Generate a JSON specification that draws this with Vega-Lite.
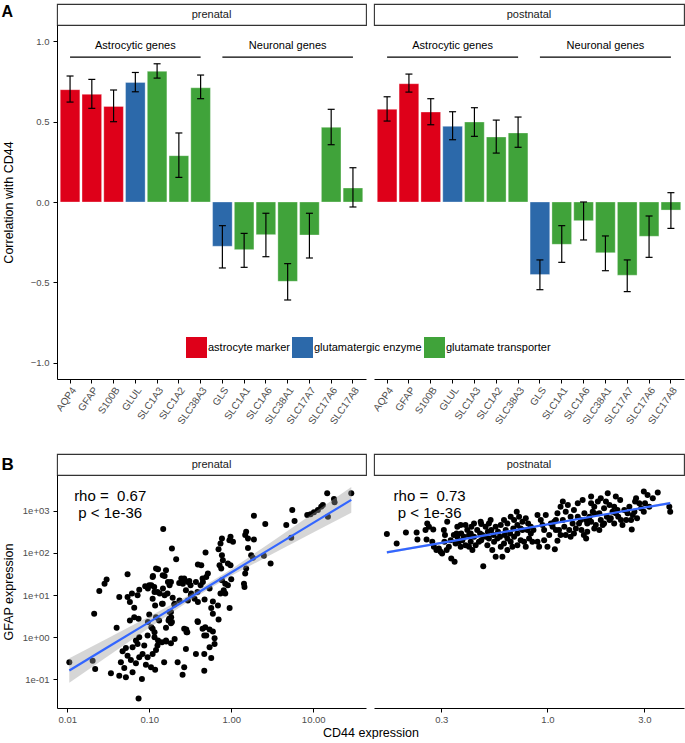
{
  "$schema": "https://vega.github.io/schema/vega-lite/v6.json",
  "background": "white",
  "padding": {"left": 0, "top": 2, "right": 0, "bottom": 0},
  "config": {
    "font": "Liberation Sans",
    "view": {"stroke": null},
    "axis": {"grid": false, "domainColor": "#000000", "domainWidth": 1, "tickColor": "#000000", "tickWidth": 1, "tickSize": 4, "labelColor": "#4d4d4d", "labelFontSize": 9.5, "labelPadding": 4, "titleColor": "#000000", "titleFontSize": 12.5, "titleFontWeight": "normal"}
  },
  "datasets": {
    "bars": [
      {"period": "prenatal", "gene": "AQP4", "category": "astrocyte marker", "r": 0.698, "lo": 0.621, "hi": 0.783},
      {"period": "prenatal", "gene": "GFAP", "category": "astrocyte marker", "r": 0.669, "lo": 0.582, "hi": 0.762},
      {"period": "prenatal", "gene": "S100B", "category": "astrocyte marker", "r": 0.594, "lo": 0.499, "hi": 0.696},
      {"period": "prenatal", "gene": "GLUL", "category": "glutamatergic enzyme", "r": 0.743, "lo": 0.685, "hi": 0.805},
      {"period": "prenatal", "gene": "SLC1A3", "category": "glutamate transporter", "r": 0.812, "lo": 0.770, "hi": 0.859},
      {"period": "prenatal", "gene": "SLC1A2", "category": "glutamate transporter", "r": 0.288, "lo": 0.153, "hi": 0.429},
      {"period": "prenatal", "gene": "SLC38A3", "category": "glutamate transporter", "r": 0.710, "lo": 0.642, "hi": 0.789},
      {"period": "prenatal", "gene": "GLS", "category": "glutamatergic enzyme", "r": -0.275, "lo": -0.410, "hi": -0.147},
      {"period": "prenatal", "gene": "SLC1A1", "category": "glutamate transporter", "r": -0.296, "lo": -0.406, "hi": -0.195},
      {"period": "prenatal", "gene": "SLC1A6", "category": "glutamate transporter", "r": -0.203, "lo": -0.340, "hi": -0.070},
      {"period": "prenatal", "gene": "SLC38A1", "category": "glutamate transporter", "r": -0.493, "lo": -0.609, "hi": -0.383},
      {"period": "prenatal", "gene": "SLC17A7", "category": "glutamate transporter", "r": -0.205, "lo": -0.348, "hi": -0.070},
      {"period": "prenatal", "gene": "SLC17A6", "category": "glutamate transporter", "r": 0.464, "lo": 0.356, "hi": 0.576},
      {"period": "prenatal", "gene": "SLC17A8", "category": "glutamate transporter", "r": 0.087, "lo": -0.031, "hi": 0.213},
      {"period": "postnatal", "gene": "AQP4", "category": "astrocyte marker", "r": 0.576, "lo": 0.503, "hi": 0.654},
      {"period": "postnatal", "gene": "GFAP", "category": "astrocyte marker", "r": 0.735, "lo": 0.683, "hi": 0.795},
      {"period": "postnatal", "gene": "S100B", "category": "astrocyte marker", "r": 0.559, "lo": 0.480, "hi": 0.642},
      {"period": "postnatal", "gene": "GLUL", "category": "glutamatergic enzyme", "r": 0.470, "lo": 0.387, "hi": 0.561},
      {"period": "postnatal", "gene": "SLC1A3", "category": "glutamate transporter", "r": 0.497, "lo": 0.408, "hi": 0.586},
      {"period": "postnatal", "gene": "SLC1A2", "category": "glutamate transporter", "r": 0.404, "lo": 0.304, "hi": 0.509},
      {"period": "postnatal", "gene": "SLC38A3", "category": "glutamate transporter", "r": 0.429, "lo": 0.340, "hi": 0.528},
      {"period": "postnatal", "gene": "GLS", "category": "glutamatergic enzyme", "r": -0.451, "lo": -0.545, "hi": -0.360},
      {"period": "postnatal", "gene": "SLC1A1", "category": "glutamate transporter", "r": -0.263, "lo": -0.375, "hi": -0.147},
      {"period": "postnatal", "gene": "SLC1A6", "category": "glutamate transporter", "r": -0.116, "lo": -0.236, "hi": 0.0},
      {"period": "postnatal", "gene": "SLC38A1", "category": "glutamate transporter", "r": -0.315, "lo": -0.427, "hi": -0.211},
      {"period": "postnatal", "gene": "SLC17A7", "category": "glutamate transporter", "r": -0.455, "lo": -0.557, "hi": -0.360},
      {"period": "postnatal", "gene": "SLC17A6", "category": "glutamate transporter", "r": -0.213, "lo": -0.344, "hi": -0.087},
      {"period": "postnatal", "gene": "SLC17A8", "category": "glutamate transporter", "r": -0.050, "lo": -0.164, "hi": 0.058}
    ],
    "annot": [
      {"label": "Astrocytic genes", "g1": "AQP4", "g2": "SLC38A3", "gm": "GLUL"},
      {"label": "Neuronal genes", "g1": "GLS", "g2": "SLC17A8", "gm": "SLC38A1"}
    ],
    "pre": [
      {"cd44": 29.1, "gfap": 2590}, {"cd44": 14.8, "gfap": 2590}, {"cd44": 17.9, "gfap": 1900}, {"cd44": 18.2, "gfap": 1580},
      {"cd44": 12.5, "gfap": 1245}, {"cd44": 13.1, "gfap": 1365}, {"cd44": 11.4, "gfap": 1037}, {"cd44": 10.2, "gfap": 912},
      {"cd44": 9.27, "gfap": 818}, {"cd44": 8.45, "gfap": 788}, {"cd44": 15.1, "gfap": 720}, {"cd44": 5.55, "gfap": 1037},
      {"cd44": 5.92, "gfap": 568}, {"cd44": 4.69, "gfap": 456}, {"cd44": 5.39, "gfap": 228}, {"cd44": 1.89, "gfap": 760},
      {"cd44": 2.60, "gfap": 481}, {"cd44": 1.52, "gfap": 316}, {"cd44": 1.48, "gfap": 263}, {"cd44": 1.60, "gfap": 219},
      {"cd44": 1.89, "gfap": 208}, {"cd44": 0.98, "gfap": 240}, {"cd44": 0.95, "gfap": 200}, {"cd44": 1.05, "gfap": 183},
      {"cd44": 0.77, "gfap": 219}, {"cd44": 0.74, "gfap": 167}, {"cd44": 0.70, "gfap": 122}, {"cd44": 1.60, "gfap": 131},
      {"cd44": 1.75, "gfap": 88}, {"cd44": 1.84, "gfap": 76}, {"cd44": 2.50, "gfap": 85}, {"cd44": 3.02, "gfap": 55.7},
      {"cd44": 1.52, "gfap": 42.4}, {"cd44": 1.48, "gfap": 32.2}, {"cd44": 1.43, "gfap": 18.6}, {"cd44": 1.45, "gfap": 15.5},
      {"cd44": 0.486, "gfap": 102}, {"cd44": 0.77, "gfap": 88}, {"cd44": 0.79, "gfap": 66.9}, {"cd44": 0.72, "gfap": 50.8},
      {"cd44": 0.755, "gfap": 42.4}, {"cd44": 0.91, "gfap": 55.7}, {"cd44": 0.98, "gfap": 50.8}, {"cd44": 0.392, "gfap": 52.7},
      {"cd44": 0.431, "gfap": 50.8}, {"cd44": 0.519, "gfap": 32.2}, {"cd44": 0.496, "gfap": 26.8}, {"cd44": 0.451, "gfap": 20.4},
      {"cd44": 0.423, "gfap": 17.0}, {"cd44": 0.544, "gfap": 14.2}, {"cd44": 0.77, "gfap": 22.4}, {"cd44": 0.845, "gfap": 18.6},
      {"cd44": 0.91, "gfap": 17.0}, {"cd44": 0.81, "gfap": 12.9}, {"cd44": 0.74, "gfap": 10.8}, {"cd44": 0.845, "gfap": 10.8},
      {"cd44": 1.0, "gfap": 23.6}, {"cd44": 0.189, "gfap": 127}, {"cd44": 0.213, "gfap": 70.7}, {"cd44": 0.148, "gfap": 366},
      {"cd44": 0.128, "gfap": 40.8}, {"cd44": 0.111, "gfap": 28.3}, {"cd44": 0.154, "gfap": 28.3}, {"cd44": 0.246, "gfap": 24.5},
      {"cd44": 0.270, "gfap": 22.4}, {"cd44": 0.296, "gfap": 20.4}, {"cd44": 0.319, "gfap": 17.0}, {"cd44": 0.257, "gfap": 18.6},
      {"cd44": 0.169, "gfap": 20.4}, {"cd44": 0.177, "gfap": 17.0}, {"cd44": 0.147, "gfap": 14.2}, {"cd44": 0.106, "gfap": 17.0},
      {"cd44": 0.0963, "gfap": 14.2}, {"cd44": 0.116, "gfap": 11.8}, {"cd44": 0.134, "gfap": 10.8}, {"cd44": 0.154, "gfap": 9.82},
      {"cd44": 0.325, "gfap": 10.8}, {"cd44": 0.357, "gfap": 8.18}, {"cd44": 0.296, "gfap": 7.46}, {"cd44": 0.392, "gfap": 6.81},
      {"cd44": 0.234, "gfap": 7.46}, {"cd44": 0.204, "gfap": 6.22}, {"cd44": 0.143, "gfap": 6.22}, {"cd44": 0.177, "gfap": 3.94},
      {"cd44": 0.185, "gfap": 2.99}, {"cd44": 0.172, "gfap": 2.49}, {"cd44": 0.189, "gfap": 2.28}, {"cd44": 0.0963, "gfap": 2.28},
      {"cd44": 0.106, "gfap": 1.73}, {"cd44": 0.116, "gfap": 1.32}, {"cd44": 0.473, "gfap": 7.88}, {"cd44": 0.597, "gfap": 7.07},
      {"cd44": 0.688, "gfap": 5.68}, {"cd44": 0.570, "gfap": 4.90}, {"cd44": 0.597, "gfap": 3.59}, {"cd44": 0.701, "gfap": 2.63},
      {"cd44": 0.955, "gfap": 4.90}, {"cd44": 0.392, "gfap": 2.28}, {"cd44": 0.482, "gfap": 1.73}, {"cd44": 0.544, "gfap": 1.52},
      {"cd44": 0.597, "gfap": 1.36}, {"cd44": 0.496, "gfap": 1.10}, {"cd44": 0.626, "gfap": 0.947}, {"cd44": 0.283, "gfap": 1.52},
      {"cd44": 0.291, "gfap": 1.32}, {"cd44": 0.204, "gfap": 0.912}, {"cd44": 0.161, "gfap": 0.789}, {"cd44": 0.128, "gfap": 0.833},
      {"cd44": 0.116, "gfap": 1.0}, {"cd44": 0.0106, "gfap": 0.254}, {"cd44": 0.0204, "gfap": 0.278}, {"cd44": 0.0219, "gfap": 0.176},
      {"cd44": 0.0213, "gfap": 3.59}, {"cd44": 0.0400, "gfap": 1.67}, {"cd44": 0.0246, "gfap": 12.5}, {"cd44": 0.0302, "gfap": 23.2},
      {"cd44": 0.0285, "gfap": 18.6}, {"cd44": 0.0544, "gfap": 31.0}, {"cd44": 0.0431, "gfap": 8.96}, {"cd44": 0.0341, "gfap": 0.139},
      {"cd44": 0.0451, "gfap": 0.254}, {"cd44": 0.0496, "gfap": 0.186}, {"cd44": 0.0431, "gfap": 0.122}, {"cd44": 0.0519, "gfap": 0.112},
      {"cd44": 0.0626, "gfap": 0.147}, {"cd44": 0.0814, "gfap": 0.102}, {"cd44": 0.0741, "gfap": 0.0353}, {"cd44": 0.0473, "gfap": 0.464},
      {"cd44": 0.0544, "gfap": 0.366}, {"cd44": 0.0597, "gfap": 0.289}, {"cd44": 0.0688, "gfap": 0.240}, {"cd44": 0.0755, "gfap": 0.334},
      {"cd44": 0.0519, "gfap": 0.557}, {"cd44": 0.0626, "gfap": 0.578}, {"cd44": 0.0721, "gfap": 0.694}, {"cd44": 0.0829, "gfap": 0.401},
      {"cd44": 0.0955, "gfap": 0.334}, {"cd44": 0.110, "gfap": 0.401}, {"cd44": 0.121, "gfap": 0.499}, {"cd44": 0.105, "gfap": 0.193},
      {"cd44": 0.118, "gfap": 0.170}, {"cd44": 0.091, "gfap": 0.223}, {"cd44": 0.152, "gfap": 0.254}, {"cd44": 0.126, "gfap": 0.633},
      {"cd44": 0.143, "gfap": 0.760}, {"cd44": 0.160, "gfap": 0.833}, {"cd44": 0.184, "gfap": 0.720}, {"cd44": 0.0955, "gfap": 1.10},
      {"cd44": 0.0869, "gfap": 0.633}, {"cd44": 0.0755, "gfap": 1.0}, {"cd44": 0.0688, "gfap": 0.833}, {"cd44": 0.110, "gfap": 1.58},
      {"cd44": 0.132, "gfap": 2.49}, {"cd44": 0.175, "gfap": 2.73}, {"cd44": 0.184, "gfap": 2.15}, {"cd44": 0.0656, "gfap": 2.99},
      {"cd44": 0.0581, "gfap": 2.49}, {"cd44": 0.0741, "gfap": 2.73}, {"cd44": 0.1, "gfap": 3.47}, {"cd44": 0.121, "gfap": 2.99},
      {"cd44": 0.160, "gfap": 1.67}, {"cd44": 0.0544, "gfap": 8.96}, {"cd44": 0.0581, "gfap": 6.81}, {"cd44": 0.0615, "gfap": 10.8},
      {"cd44": 0.0656, "gfap": 4.99}, {"cd44": 0.0721, "gfap": 9.82}, {"cd44": 0.0755, "gfap": 13.4}, {"cd44": 0.0893, "gfap": 16.1},
      {"cd44": 0.1, "gfap": 17.0}, {"cd44": 0.115, "gfap": 15.5}, {"cd44": 0.126, "gfap": 11.8}, {"cd44": 0.110, "gfap": 8.18},
      {"cd44": 0.118, "gfap": 5.68}, {"cd44": 0.146, "gfap": 6.22}, {"cd44": 0.167, "gfap": 10.8}, {"cd44": 0.184, "gfap": 20.4},
      {"cd44": 0.193, "gfap": 8.64}, {"cd44": 0.202, "gfap": 6.0}, {"cd44": 0.184, "gfap": 3.94}, {"cd44": 0.121, "gfap": 42.4},
      {"cd44": 0.146, "gfap": 29.4}, {"cd44": 0.160, "gfap": 38.7}, {"cd44": 0.110, "gfap": 26.8}, {"cd44": 0.232, "gfap": 19.3},
      {"cd44": 0.267, "gfap": 24.5}, {"cd44": 0.308, "gfap": 21.5}, {"cd44": 0.371, "gfap": 20.4}, {"cd44": 0.447, "gfap": 24.5},
      {"cd44": 0.280, "gfap": 12.9}, {"cd44": 0.322, "gfap": 9.82}, {"cd44": 0.388, "gfap": 11.8}, {"cd44": 0.267, "gfap": 1.58},
      {"cd44": 0.285, "gfap": 1.32}, {"cd44": 0.388, "gfap": 2.40}, {"cd44": 0.447, "gfap": 1.58}, {"cd44": 0.469, "gfap": 1.10},
      {"cd44": 0.222, "gfap": 0.254}, {"cd44": 0.267, "gfap": 0.193}, {"cd44": 0.255, "gfap": 0.129}, {"cd44": 0.371, "gfap": 0.401},
      {"cd44": 0.469, "gfap": 0.401}, {"cd44": 0.469, "gfap": 0.161}, {"cd44": 0.280, "gfap": 0.527}, {"cd44": 0.570, "gfap": 0.322},
      {"cd44": 0.544, "gfap": 0.578}, {"cd44": 0.626, "gfap": 0.694}
    ],
    "post": [
      {"cd44": 0.162, "gfap": 278}, {"cd44": 0.181, "gfap": 167}, {"cd44": 0.201, "gfap": 305}, {"cd44": 0.227, "gfap": 305},
      {"cd44": 0.229, "gfap": 208}, {"cd44": 0.254, "gfap": 208}, {"cd44": 0.251, "gfap": 347}, {"cd44": 0.261, "gfap": 416},
      {"cd44": 0.274, "gfap": 359}, {"cd44": 0.309, "gfap": 347}, {"cd44": 0.313, "gfap": 263}, {"cd44": 0.321, "gfap": 547},
      {"cd44": 0.271, "gfap": 183}, {"cd44": 0.276, "gfap": 139}, {"cd44": 0.284, "gfap": 116}, {"cd44": 0.292, "gfap": 127},
      {"cd44": 0.298, "gfap": 106}, {"cd44": 0.303, "gfap": 96.4}, {"cd44": 0.336, "gfap": 73.3}, {"cd44": 0.349, "gfap": 61.1},
      {"cd44": 0.311, "gfap": 183}, {"cd44": 0.334, "gfap": 200}, {"cd44": 0.346, "gfap": 263}, {"cd44": 0.360, "gfap": 416},
      {"cd44": 0.374, "gfap": 456}, {"cd44": 0.376, "gfap": 289}, {"cd44": 0.388, "gfap": 240}, {"cd44": 0.403, "gfap": 347},
      {"cd44": 0.422, "gfap": 416}, {"cd44": 0.435, "gfap": 499}, {"cd44": 0.451, "gfap": 347}, {"cd44": 0.472, "gfap": 481},
      {"cd44": 0.496, "gfap": 416}, {"cd44": 0.515, "gfap": 499}, {"cd44": 0.529, "gfap": 347}, {"cd44": 0.556, "gfap": 416},
      {"cd44": 0.571, "gfap": 316}, {"cd44": 0.589, "gfap": 456}, {"cd44": 0.611, "gfap": 600}, {"cd44": 0.635, "gfap": 499},
      {"cd44": 0.659, "gfap": 720}, {"cd44": 0.685, "gfap": 600}, {"cd44": 0.706, "gfap": 946}, {"cd44": 0.725, "gfap": 720},
      {"cd44": 0.753, "gfap": 547}, {"cd44": 0.782, "gfap": 657}, {"cd44": 0.803, "gfap": 499}, {"cd44": 0.828, "gfap": 416},
      {"cd44": 0.853, "gfap": 347}, {"cd44": 0.797, "gfap": 347}, {"cd44": 0.753, "gfap": 347}, {"cd44": 0.711, "gfap": 289},
      {"cd44": 0.685, "gfap": 240}, {"cd44": 0.659, "gfap": 183}, {"cd44": 0.635, "gfap": 219}, {"cd44": 0.611, "gfap": 167},
      {"cd44": 0.589, "gfap": 139}, {"cd44": 0.567, "gfap": 219}, {"cd44": 0.546, "gfap": 183}, {"cd44": 0.515, "gfap": 219},
      {"cd44": 0.496, "gfap": 240}, {"cd44": 0.478, "gfap": 263}, {"cd44": 0.460, "gfap": 183}, {"cd44": 0.443, "gfap": 152},
      {"cd44": 0.427, "gfap": 116}, {"cd44": 0.411, "gfap": 139}, {"cd44": 0.395, "gfap": 152}, {"cd44": 0.435, "gfap": 240},
      {"cd44": 0.381, "gfap": 200}, {"cd44": 0.366, "gfap": 183}, {"cd44": 0.353, "gfap": 167}, {"cd44": 0.506, "gfap": 152},
      {"cd44": 0.535, "gfap": 116}, {"cd44": 0.556, "gfap": 80.3}, {"cd44": 0.600, "gfap": 80.3}, {"cd44": 0.483, "gfap": 48.2},
      {"cd44": 0.635, "gfap": 116}, {"cd44": 0.672, "gfap": 139}, {"cd44": 0.711, "gfap": 152}, {"cd44": 0.738, "gfap": 200},
      {"cd44": 0.767, "gfap": 183}, {"cd44": 0.812, "gfap": 219}, {"cd44": 0.843, "gfap": 183}, {"cd44": 0.782, "gfap": 139},
      {"cd44": 0.711, "gfap": 456}, {"cd44": 0.623, "gfap": 347}, {"cd44": 0.525, "gfap": 600}, {"cd44": 0.469, "gfap": 547},
      {"cd44": 0.419, "gfap": 289}, {"cd44": 0.395, "gfap": 456}, {"cd44": 0.357, "gfap": 289}, {"cd44": 0.256, "gfap": 499},
      {"cd44": 0.910, "gfap": 139}, {"cd44": 1.087, "gfap": 122}, {"cd44": 1.12, "gfap": 193}, {"cd44": 0.963, "gfap": 347},
      {"cd44": 1.02, "gfap": 263}, {"cd44": 1.06, "gfap": 416}, {"cd44": 1.10, "gfap": 600}, {"cd44": 1.12, "gfap": 864},
      {"cd44": 1.16, "gfap": 1245}, {"cd44": 1.19, "gfap": 1638}, {"cd44": 1.23, "gfap": 946}, {"cd44": 1.26, "gfap": 1365},
      {"cd44": 1.30, "gfap": 720}, {"cd44": 1.35, "gfap": 1037}, {"cd44": 1.41, "gfap": 1496}, {"cd44": 1.43, "gfap": 499},
      {"cd44": 1.47, "gfap": 347}, {"cd44": 1.51, "gfap": 263}, {"cd44": 1.55, "gfap": 219}, {"cd44": 1.57, "gfap": 316},
      {"cd44": 1.49, "gfap": 1795}, {"cd44": 1.52, "gfap": 864}, {"cd44": 1.61, "gfap": 720}, {"cd44": 1.64, "gfap": 1496},
      {"cd44": 1.70, "gfap": 1245}, {"cd44": 1.67, "gfap": 946}, {"cd44": 1.77, "gfap": 1638}, {"cd44": 1.80, "gfap": 864},
      {"cd44": 1.83, "gfap": 600}, {"cd44": 1.87, "gfap": 456}, {"cd44": 1.90, "gfap": 499}, {"cd44": 1.96, "gfap": 720},
      {"cd44": 1.98, "gfap": 2590}, {"cd44": 2.02, "gfap": 1365}, {"cd44": 2.05, "gfap": 657}, {"cd44": 2.13, "gfap": 1245},
      {"cd44": 2.17, "gfap": 864}, {"cd44": 2.23, "gfap": 720}, {"cd44": 2.28, "gfap": 1795}, {"cd44": 2.34, "gfap": 456},
      {"cd44": 2.39, "gfap": 1037}, {"cd44": 2.53, "gfap": 1245}, {"cd44": 2.60, "gfap": 359}, {"cd44": 2.63, "gfap": 788},
      {"cd44": 2.70, "gfap": 1638}, {"cd44": 2.73, "gfap": 1966}, {"cd44": 2.76, "gfap": 657}, {"cd44": 2.83, "gfap": 1496},
      {"cd44": 2.98, "gfap": 2833}, {"cd44": 3.02, "gfap": 1496}, {"cd44": 3.11, "gfap": 2360}, {"cd44": 3.17, "gfap": 1245},
      {"cd44": 3.30, "gfap": 1966}, {"cd44": 2.98, "gfap": 946}, {"cd44": 3.49, "gfap": 2683}, {"cd44": 3.98, "gfap": 1245},
      {"cd44": 4.02, "gfap": 946}, {"cd44": 0.927, "gfap": 600}, {"cd44": 0.893, "gfap": 788}, {"cd44": 0.981, "gfap": 788},
      {"cd44": 1.04, "gfap": 499}, {"cd44": 1.21, "gfap": 416}, {"cd44": 1.28, "gfap": 347}, {"cd44": 1.35, "gfap": 289},
      {"cd44": 1.16, "gfap": 263}, {"cd44": 1.10, "gfap": 347}, {"cd44": 0.963, "gfap": 200}, {"cd44": 0.893, "gfap": 183},
      {"cd44": 1.0, "gfap": 139}, {"cd44": 1.19, "gfap": 600}, {"cd44": 1.33, "gfap": 499}, {"cd44": 1.41, "gfap": 720},
      {"cd44": 1.73, "gfap": 456}, {"cd44": 1.57, "gfap": 499}, {"cd44": 1.90, "gfap": 1137}, {"cd44": 2.09, "gfap": 946},
      {"cd44": 2.48, "gfap": 864}, {"cd44": 2.30, "gfap": 600}, {"cd44": 2.89, "gfap": 1137}, {"cd44": 2.58, "gfap": 600},
      {"cd44": 1.64, "gfap": 2154}, {"cd44": 2.17, "gfap": 2154}, {"cd44": 1.83, "gfap": 1966}, {"cd44": 1.94, "gfap": 1638},
      {"cd44": 0.411, "gfap": 263}, {"cd44": 0.466, "gfap": 289}, {"cd44": 0.509, "gfap": 316}, {"cd44": 0.542, "gfap": 263},
      {"cd44": 0.584, "gfap": 240}, {"cd44": 0.616, "gfap": 263}, {"cd44": 0.655, "gfap": 289}, {"cd44": 0.679, "gfap": 380},
      {"cd44": 0.738, "gfap": 380}, {"cd44": 0.828, "gfap": 289}, {"cd44": 0.472, "gfap": 200}, {"cd44": 0.419, "gfap": 183},
      {"cd44": 0.374, "gfap": 139}, {"cd44": 0.360, "gfap": 240}, {"cd44": 0.327, "gfap": 139}, {"cd44": 0.319, "gfap": 116},
      {"cd44": 0.945, "gfap": 456}, {"cd44": 1.08, "gfap": 547}, {"cd44": 1.14, "gfap": 347}, {"cd44": 1.23, "gfap": 263},
      {"cd44": 1.30, "gfap": 240}, {"cd44": 1.38, "gfap": 380}, {"cd44": 1.46, "gfap": 600}, {"cd44": 1.55, "gfap": 600},
      {"cd44": 1.64, "gfap": 547}, {"cd44": 1.70, "gfap": 380}, {"cd44": 1.80, "gfap": 347}, {"cd44": 2.02, "gfap": 600},
      {"cd44": 2.13, "gfap": 499}, {"cd44": 2.21, "gfap": 1037}, {"cd44": 2.44, "gfap": 600}, {"cd44": 2.68, "gfap": 946},
      {"cd44": 1.70, "gfap": 864}
    ],
    "fitpre": [
      {"cd44": 0.0106, "fit": 0.163, "lo": 0.0834, "hi": 0.318},
      {"cd44": 0.03, "fit": 0.555, "lo": 0.337, "hi": 0.912},
      {"cd44": 0.1, "fit": 2.28, "lo": 1.68, "hi": 3.10},
      {"cd44": 0.3, "fit": 8.30, "lo": 7.05, "hi": 9.77},
      {"cd44": 1, "fit": 34.2, "lo": 28.5, "hi": 41.0},
      {"cd44": 3, "fit": 124, "lo": 89.1, "hi": 174},
      {"cd44": 10, "fit": 512, "lo": 303, "hi": 869},
      {"cd44": 29.1, "fit": 1799, "lo": 889, "hi": 3639}
    ],
    "fitpost": [
      {"cd44": 0.162, "fit": 103, "lo": 96, "hi": 110},
      {"cd44": 0.5, "fit": 264, "lo": 255, "hi": 274},
      {"cd44": 1, "fit": 472, "lo": 459, "hi": 485},
      {"cd44": 2, "fit": 843, "lo": 809, "hi": 879},
      {"cd44": 4.02, "fit": 1514, "lo": 1413, "hi": 1622}
    ]
  },
  "spacing": 27,
  "vconcat": [
    {
      "columns": 2,
      "bounds": "flush",
      "spacing": {"row": 0, "column": 8},
      "concat": [
        {
          "width": 309, "height": 21,
          "data": {"values": [{"label": "prenatal"}]},
          "view": {"stroke": "#333333", "strokeWidth": 1.1},
          "mark": {"type": "text", "fontSize": 11, "color": "#1a1a1a"},
          "encoding": {
            "text": {"field": "label"},
            "y": {"datum": 0, "type": "quantitative", "scale": {"domain": [-1, 1]},
                  "axis": {"title": "A", "titleAngle": 0, "titleX": -56, "titleY": 12, "titleAlign": "left", "titleBaseline": "alphabetic", "titleFontSize": 16, "titleFontWeight": "bold", "ticks": false, "labels": false, "domain": false}}
          }
        },
        {
          "width": 310, "height": 21,
          "data": {"values": [{"label": "postnatal"}]},
          "view": {"stroke": "#333333", "strokeWidth": 1.1},
          "mark": {"type": "text", "fontSize": 11, "color": "#1a1a1a"},
          "encoding": {"text": {"field": "label"}}
        },
        {
          "width": 309, "height": 354,
          "data": {"name": "bars"},
          "transform": [{"filter": "datum.period === 'prenatal'"}],
          "encoding": {
            "x": {"field": "gene", "type": "nominal",
                  "scale": {"domain": ["AQP4","GFAP","S100B","GLUL","SLC1A3","SLC1A2","SLC38A3","GLS","SLC1A1","SLC1A6","SLC38A1","SLC17A7","SLC17A6","SLC17A8"], "paddingInner": 0.1, "paddingOuter": 0.15},
                  "axis": {"title": null, "labelAngle": -55, "labelAlign": "right", "labelBaseline": "top", "labelPadding": 2, "labelFontSize": 10}}
          },
          "layer": [
            {
              "mark": {"type": "bar", "stroke": "#ffffff", "strokeOpacity": 0.45, "strokeWidth": 0.7},
              "encoding": {
                "y": {"field": "r", "type": "quantitative", "scale": {"domain": [-1.1, 1.1], "nice": false, "zero": false},
                      "axis": {"values": [-1, -0.5, 0, 0.5, 1], "format": ".1f", "title": "Correlation with CD44", "titlePadding": 15}},
                "color": {"field": "category", "type": "nominal",
                          "scale": {"domain": ["astrocyte marker", "glutamatergic enzyme", "glutamate transporter"], "range": ["#DE0019", "#2C69AA", "#40A33A"]},
                          "legend": {"title": null, "orient": "none", "legendX": 129, "legendY": 333, "direction": "horizontal", "columns": 3, "symbolType": "square", "symbolSize": 441, "symbolStrokeWidth": 0, "symbolOpacity": 1, "labelFontSize": 11, "labelColor": "#000000", "labelOffset": 1, "columnPadding": 2, "padding": 0}}
              }
            },
            {"mark": {"type": "rule", "color": "#000000", "strokeWidth": 1.2}, "encoding": {"y": {"datum": 0}}},
            {"mark": {"type": "rule", "color": "#000000", "strokeWidth": 1.2}, "encoding": {"y": {"field": "lo", "type": "quantitative"}, "y2": {"field": "hi"}}},
            {"mark": {"type": "tick", "color": "#000000", "size": 7, "thickness": 1.2, "opacity": 1}, "encoding": {"y": {"field": "lo", "type": "quantitative"}}},
            {"mark": {"type": "tick", "color": "#000000", "size": 7, "thickness": 1.2, "opacity": 1}, "encoding": {"y": {"field": "hi", "type": "quantitative"}}},
            {"data": {"name": "annot"}, "mark": {"type": "rule", "color": "#000000", "strokeWidth": 1.2},
             "encoding": {"x": {"field": "g1", "type": "nominal", "bandPosition": 0.5}, "x2": {"field": "g2", "bandPosition": 0.5}, "y": {"datum": 0.9}}},
            {"data": {"name": "annot"}, "mark": {"type": "text", "fontSize": 11, "color": "#000000"},
             "encoding": {"x": {"field": "gm", "type": "nominal"}, "y": {"datum": 0.967}, "text": {"field": "label"}}}
          ]
        },
        {
          "width": 310, "height": 354,
          "data": {"name": "bars"},
          "transform": [{"filter": "datum.period === 'postnatal'"}],
          "encoding": {
            "x": {"field": "gene", "type": "nominal",
                  "scale": {"domain": ["AQP4","GFAP","S100B","GLUL","SLC1A3","SLC1A2","SLC38A3","GLS","SLC1A1","SLC1A6","SLC38A1","SLC17A7","SLC17A6","SLC17A8"], "paddingInner": 0.1, "paddingOuter": 0.15},
                  "axis": {"title": null, "labelAngle": -55, "labelAlign": "right", "labelBaseline": "top", "labelPadding": 2, "labelFontSize": 10}}
          },
          "layer": [
            {
              "mark": {"type": "bar", "stroke": "#ffffff", "strokeOpacity": 0.45, "strokeWidth": 0.7},
              "encoding": {
                "y": {"field": "r", "type": "quantitative", "scale": {"domain": [-1.1, 1.1], "nice": false, "zero": false}, "axis": null},
                "color": {"field": "category", "type": "nominal",
                          "scale": {"domain": ["astrocyte marker", "glutamatergic enzyme", "glutamate transporter"], "range": ["#DE0019", "#2C69AA", "#40A33A"]},
                          "legend": {"title": null, "orient": "none", "legendX": 129, "legendY": 333, "direction": "horizontal", "columns": 3, "symbolType": "square", "symbolSize": 441, "symbolStrokeWidth": 0, "symbolOpacity": 1, "labelFontSize": 11, "labelColor": "#000000", "labelOffset": 1, "columnPadding": 2, "padding": 0}}
              }
            },
            {"mark": {"type": "rule", "color": "#000000", "strokeWidth": 1.2}, "encoding": {"y": {"datum": 0}}},
            {"mark": {"type": "rule", "color": "#000000", "strokeWidth": 1.2}, "encoding": {"y": {"field": "lo", "type": "quantitative"}, "y2": {"field": "hi"}}},
            {"mark": {"type": "tick", "color": "#000000", "size": 7, "thickness": 1.2, "opacity": 1}, "encoding": {"y": {"field": "lo", "type": "quantitative"}}},
            {"mark": {"type": "tick", "color": "#000000", "size": 7, "thickness": 1.2, "opacity": 1}, "encoding": {"y": {"field": "hi", "type": "quantitative"}}},
            {"data": {"name": "annot"}, "mark": {"type": "rule", "color": "#000000", "strokeWidth": 1.2},
             "encoding": {"x": {"field": "g1", "type": "nominal", "bandPosition": 0.5}, "x2": {"field": "g2", "bandPosition": 0.5}, "y": {"datum": 0.9}}},
            {"data": {"name": "annot"}, "mark": {"type": "text", "fontSize": 11, "color": "#000000"},
             "encoding": {"x": {"field": "gm", "type": "nominal"}, "y": {"datum": 0.967}, "text": {"field": "label"}}}
          ]
        }
      ]
    },
    {
      "columns": 2,
      "bounds": "flush",
      "spacing": {"row": 0, "column": 8},
      "concat": [
        {
          "width": 309, "height": 21,
          "data": {"values": [{"label": "prenatal"}]},
          "view": {"stroke": "#333333", "strokeWidth": 1.1},
          "mark": {"type": "text", "fontSize": 11, "color": "#1a1a1a"},
          "encoding": {
            "text": {"field": "label"},
            "y": {"datum": 0, "type": "quantitative", "scale": {"domain": [-1, 1]},
                  "axis": {"title": "B", "titleAngle": 0, "titleX": -56, "titleY": 15, "titleAlign": "left", "titleBaseline": "alphabetic", "titleFontSize": 17, "titleFontWeight": "bold", "ticks": false, "labels": false, "domain": false}}
          }
        },
        {
          "width": 310, "height": 21,
          "data": {"values": [{"label": "postnatal"}]},
          "view": {"stroke": "#333333", "strokeWidth": 1.1},
          "mark": {"type": "text", "fontSize": 11, "color": "#1a1a1a"},
          "encoding": {"text": {"field": "label"}}
        },
        {
          "width": 309, "height": 233,
          "layer": [
            {
              "data": {"name": "pre"},
              "mark": {"type": "circle", "size": 36, "color": "#000000", "opacity": 1},
              "encoding": {
                "x": {"field": "cd44", "type": "quantitative", "scale": {"type": "log", "domain": [0.0075, 44], "nice": false},
                      "axis": {"values": [0.01, 0.1, 1, 10], "format": ".2f", "labelPadding": 2, "title": "CD44 expression", "titleX": 313.5, "titleAlign": "center", "titleFontSize": 12.5, "titlePadding": 3}},
                "y": {"field": "gfap", "type": "quantitative", "scale": {"type": "log", "domain": [0.021, 7000], "nice": false},
                      "axis": {"values": [0.1, 1, 10, 100, 1000], "labelExpr": "datum.value < 0.5 ? '1e-01' : datum.value < 5 ? '1e+00' : datum.value < 50 ? '1e+01' : datum.value < 500 ? '1e+02' : '1e+03'", "title": "GFAP expression", "titlePadding": 7}}
              }
            },
            {
              "data": {"name": "fitpre"},
              "mark": {"type": "area", "color": "#999999", "opacity": 0.4},
              "encoding": {"x": {"field": "cd44", "type": "quantitative"}, "y": {"field": "lo", "type": "quantitative"}, "y2": {"field": "hi"}}
            },
            {
              "data": {"name": "fitpre"},
              "mark": {"type": "line", "color": "#3366FF", "strokeWidth": 2.2},
              "encoding": {"x": {"field": "cd44", "type": "quantitative"}, "y": {"field": "fit", "type": "quantitative"}}
            },
            {
              "data": {"values": [{"label": "rho = \u00a00.67\np < 1e-36"}]},
              "mark": {"type": "text", "fontSize": 15, "lineBreak": "\n", "lineHeight": 17, "align": "center", "baseline": "middle", "color": "#000000"},
              "encoding": {"x": {"datum": 0.0334}, "y": {"datum": 2180}, "text": {"field": "label"}}
            }
          ]
        },
        {
          "width": 310, "height": 233,
          "layer": [
            {
              "data": {"name": "post"},
              "mark": {"type": "circle", "size": 36, "color": "#000000", "opacity": 1},
              "encoding": {
                "x": {"field": "cd44", "type": "quantitative", "scale": {"type": "log", "domain": [0.14, 4.7], "nice": false},
                      "axis": {"values": [0.3, 1, 3], "format": ".1f", "labelPadding": 2, "title": null}},
                "y": {"field": "gfap", "type": "quantitative", "scale": {"type": "log", "domain": [0.021, 7000], "nice": false}, "axis": null}
              }
            },
            {
              "data": {"name": "fitpost"},
              "mark": {"type": "area", "color": "#999999", "opacity": 0.4},
              "encoding": {"x": {"field": "cd44", "type": "quantitative"}, "y": {"field": "lo", "type": "quantitative"}, "y2": {"field": "hi"}}
            },
            {
              "data": {"name": "fitpost"},
              "mark": {"type": "line", "color": "#3366FF", "strokeWidth": 2.2},
              "encoding": {"x": {"field": "cd44", "type": "quantitative"}, "y": {"field": "fit", "type": "quantitative"}}
            },
            {
              "data": {"values": [{"label": "rho = \u00a00.73\np < 1e-36"}]},
              "mark": {"type": "text", "fontSize": 15, "lineBreak": "\n", "lineHeight": 17, "align": "center", "baseline": "middle", "color": "#000000"},
              "encoding": {"x": {"datum": 0.263}, "y": {"datum": 2180}, "text": {"field": "label"}}
            }
          ]
        }
      ]
    }
  ]
}
